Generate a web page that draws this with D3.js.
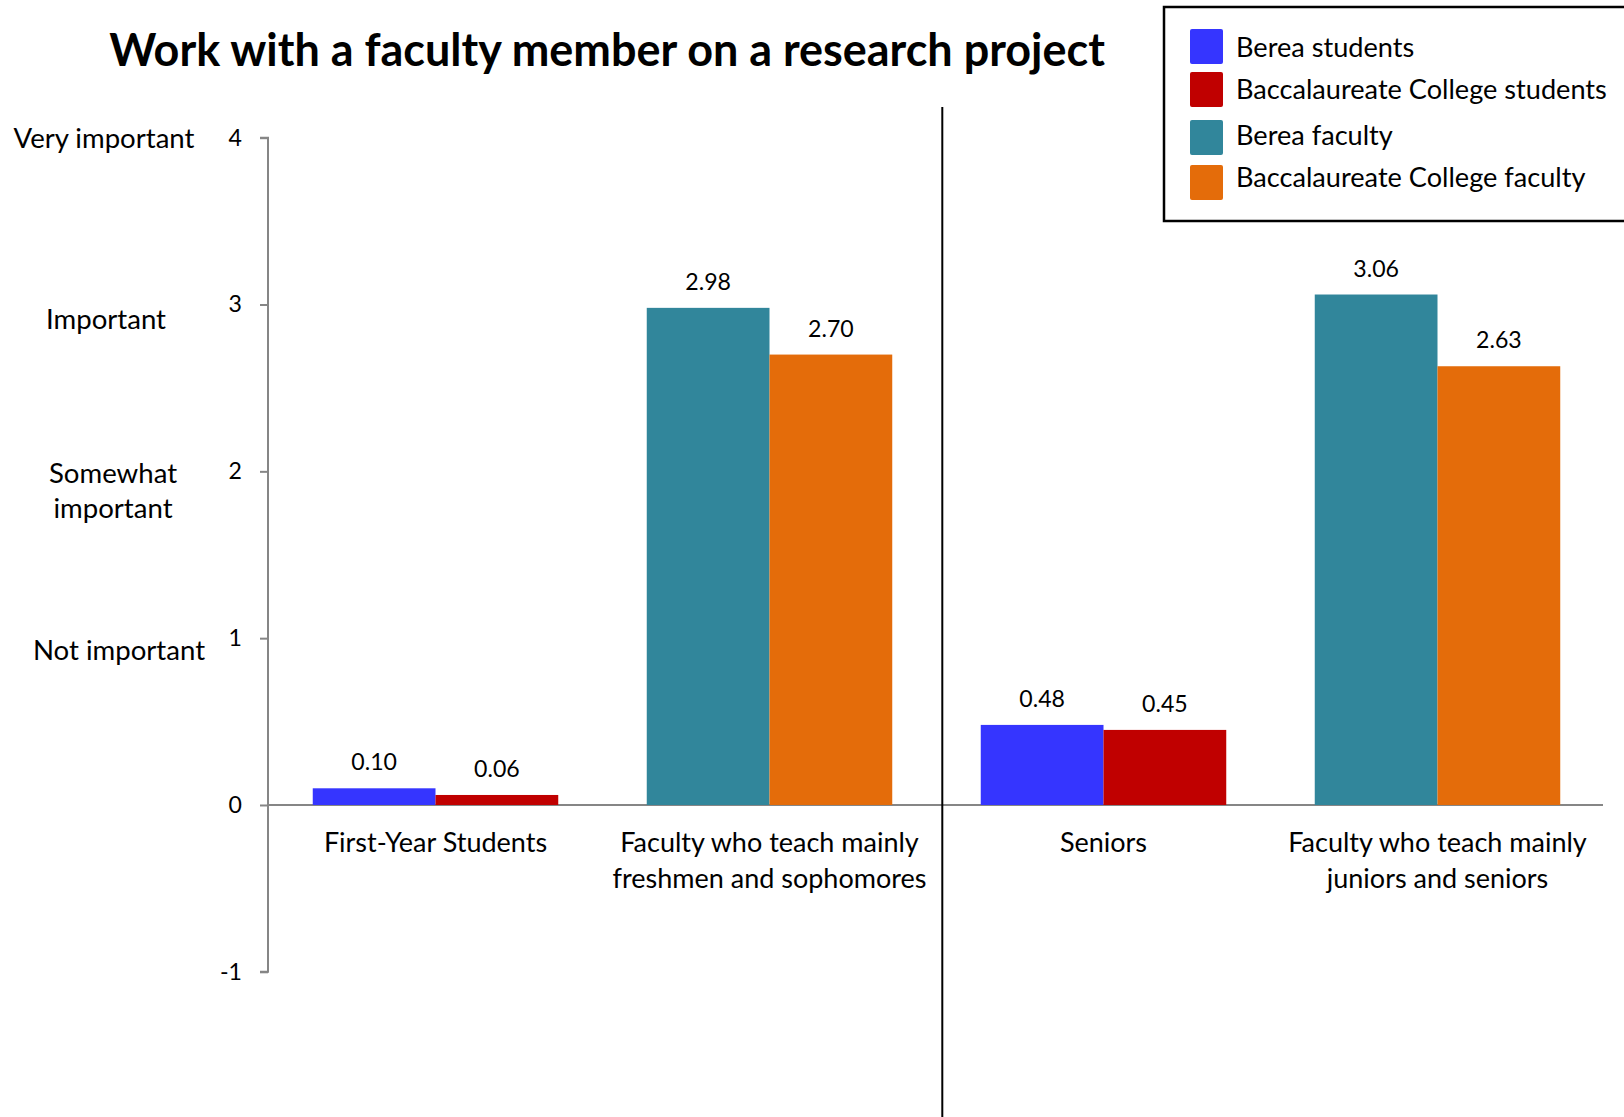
<!DOCTYPE html>
<html>
<head>
<meta charset="utf-8">
<script src="https://cdn.jsdelivr.net/npm/d3@7/dist/d3.min.js"></script>
<style>
  html, body { margin: 0; padding: 0; background: #fff; }
  svg { display: block; font-family: Lato, "Open Sans", sans-serif; }
</style>
</head>
<body>
<svg id="chart" width="1624" height="1117"></svg>
<script>
// ---- data ----
const title = "Work with a faculty member on a research project";
const categories = [
  "First-Year Students",
  "Faculty who teach mainly|freshmen and sophomores",
  "Seniors",
  "Faculty who teach mainly|juniors and seniors"
];
const categoryGroup = ["students", "faculty", "students", "faculty"];
const bereaValues = [0.10, 2.98, 0.48, 3.06];
const baccValues  = [0.06, 2.70, 0.45, 2.63];
const legendLabels = ["Berea students", "Baccalaureate College students", "Berea faculty", "Baccalaureate College faculty"];
const yTicks = [-1, 0, 1, 2, 3, 4];
const yTickLabels = ["-1", "0", "1", "2", "3", "4"];
const ratingValues = [4, 3, 2, 1];
const ratingLabels = ["Very important", "Important", "Somewhat|important", "Not important"];

// ---- styles ----
const colors = {
  "Berea students": "#3535FF",
  "Baccalaureate College students": "#C00000",
  "Berea faculty": "#31869B",
  "Baccalaureate College faculty": "#E46C0A"
};
const seriesFor = {
  students: ["Berea students", "Baccalaureate College students"],
  faculty: ["Berea faculty", "Baccalaureate College faculty"]
};
const axisColor = "#868686";

const svg = d3.select("#chart");

// scales
const y = d3.scaleLinear().domain([-1, 4]).range([971.8, 137.7]);
const x0 = d3.scaleBand().domain(categories).range([268.5, 1604.5])
  .paddingInner(0.265).paddingOuter(0.1325);
const x1 = d3.scaleBand().domain([0, 1]).range([0, x0.bandwidth()]);
const axisX = 268;

// fit helper
function fitSize(sel, target, base) {
  sel.style("font-size", base + "px");
  const w = sel.node().getComputedTextLength();
  const s = base * target / w;
  sel.style("font-size", s + "px");
  return s;
}

// title
const t = svg.append("text").attr("x", 607).attr("y", 66)
  .attr("text-anchor", "middle").attr("font-weight", "bold").attr("fill", "#000")
  .text(title);
fitSize(t, 996, 44);

// y axis
const yAxisG = svg.append("g").attr("transform", `translate(${axisX},0)`)
  .call(d3.axisLeft(y).tickValues(yTicks).tickSize(8).tickPadding(18)
    .tickFormat((d, i) => yTickLabels[i]));
yAxisG.select(".domain").attr("stroke", axisColor).attr("stroke-width", 2)
  .attr("d", `M-8,${y(4)}H0V${y(-1)}H-8`);
yAxisG.selectAll(".tick line").attr("stroke", axisColor).attr("stroke-width", 2);
yAxisG.selectAll(".tick text").attr("fill", "#000").attr("font-family", "Lato, sans-serif");

// rating labels
const ratingCenters = [104, 106, 113, 119];
const ratingOffsets = [10, 24.5, 11.5, 21.7];
let ratingSize = null;
ratingLabels.forEach((lab, i) => {
  const lines = lab.split("|");
  const txt = svg.append("text").attr("class", "rating")
    .attr("text-anchor", "middle").attr("fill", "#000")
    .attr("x", ratingCenters[i]).attr("y", y(ratingValues[i]) + ratingOffsets[i]);
  lines.forEach((l, j) => {
    txt.append("tspan").attr("x", ratingCenters[i]).attr("dy", j === 0 ? 0 : 35.5).text(l);
  });
  if (i === 0) ratingSize = fitSize(txt, 181, 24);
});
svg.selectAll("text.rating").style("font-size", ratingSize + "px");

// x axis baseline
svg.append("line").attr("x1", axisX).attr("x2", 1603)
  .attr("y1", y(0)).attr("y2", y(0)).attr("stroke", axisColor).attr("stroke-width", 2);

// separator
svg.append("line").attr("x1", 942.3).attr("x2", 942.3).attr("y1", 107).attr("y2", 1117)
  .attr("stroke", "#000").attr("stroke-width", 2);

// bars
const barData = [];
categories.forEach((c, i) => {
  const names = seriesFor[categoryGroup[i]];
  barData.push({ cat: c, idx: 0, name: names[0], value: bereaValues[i] });
  barData.push({ cat: c, idx: 1, name: names[1], value: baccValues[i] });
});
const fmt = d3.format(".2f");
svg.append("g").selectAll("rect").data(barData).join("rect")
  .attr("x", d => x0(d.cat) + x1(d.idx))
  .attr("width", x1.bandwidth())
  .attr("y", d => y(d.value))
  .attr("height", d => y(0) - y(d.value))
  .attr("fill", d => colors[d.name]);

const vl = svg.append("g").selectAll("text").data(barData).join("text")
  .attr("x", d => x0(d.cat) + x1(d.idx) + x1.bandwidth() / 2)
  .attr("y", d => y(d.value) - 18)
  .attr("text-anchor", "middle").attr("fill", "#000")
  .text(d => fmt(d.value));
const valSize = fitSize(d3.select(vl.nodes()[2]), 45.7, 24);
vl.style("font-size", valSize + "px");
yAxisG.selectAll(".tick text").style("font-size", valSize + "px");

// category labels
let catSize = null;
const catTexts = [];
categories.forEach((c, i) => {
  const lines = c.split("|");
  const cx = x0(c) + x0.bandwidth() / 2;
  const txt = svg.append("text").attr("text-anchor", "middle").attr("fill", "#000")
    .attr("x", cx).attr("y", 852.3);
  lines.forEach((l, j) => txt.append("tspan").attr("x", cx).attr("dy", j === 0 ? 0 : 35.3).text(l));
  catTexts.push(txt);
});
catSize = fitSize(catTexts[0], 223.4, 26);
catTexts.forEach(tx => tx.style("font-size", catSize + "px"));

// legend
svg.append("rect").attr("x", 1164).attr("y", 7).attr("width", 480).attr("height", 214)
  .attr("fill", "#fff").attr("stroke", "#000").attr("stroke-width", 2.5);
const swY = [29, 72, 120, 165];
const txtY = [56.7, 99.3, 145, 187];
const lg = svg.append("g");
lg.selectAll("rect").data(legendLabels).join("rect")
  .attr("x", 1190).attr("y", (d, i) => swY[i]).attr("width", 33).attr("height", 35)
  .attr("rx", 2).attr("fill", d => colors[d]);
const lt = lg.selectAll("text").data(legendLabels).join("text")
  .attr("x", 1236).attr("y", (d, i) => txtY[i]).attr("fill", "#000").text(d => d);
const legSize = fitSize(d3.select(lt.nodes()[1]), 371, 26);
lt.style("font-size", legSize + "px");
</script>
</body>
</html>
